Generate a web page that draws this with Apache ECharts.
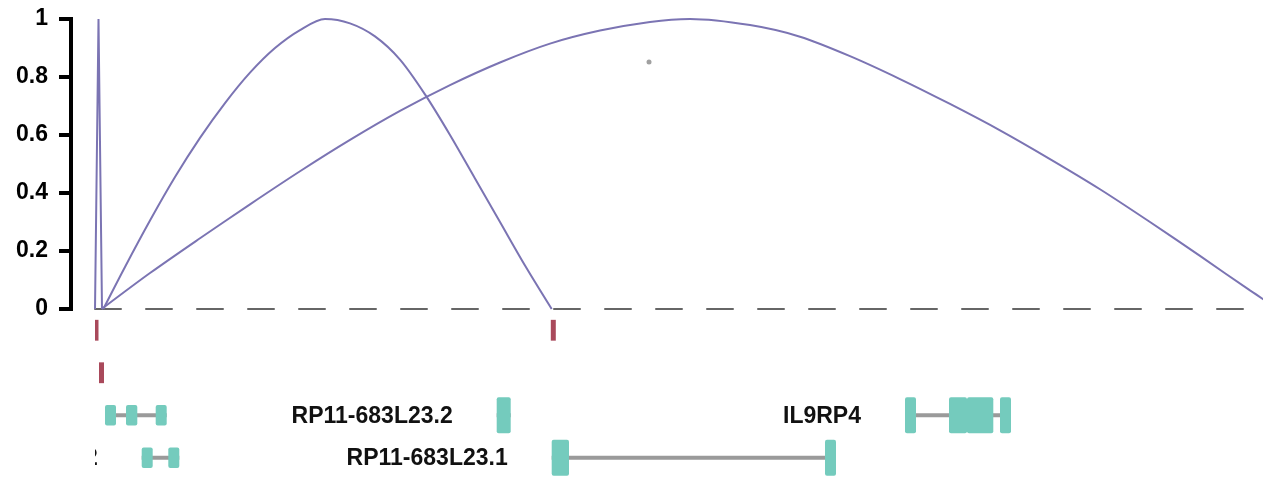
<!DOCTYPE html>
<html><head><meta charset="utf-8">
<script src="https://cdn.jsdelivr.net/npm/echarts@6/dist/echarts.min.js"></script>
<style>html,body{margin:0;padding:0;background:#fff}#chart{width:1263px;height:479px}</style>
</head><body><div id="chart"></div>
<script>
// ---- data (x in track units, y = normalised junction height) ----
const xMin = 0, xMax = 1168;
const yMin = 0, yMax = 1, yStep = 0.2;
const arcA = [[0,0],[3.5,1],[7,0]];
const arcB = [[8.3,0],[30,0.145],[55,0.305],[80,0.455],[105,0.59],[130,0.71],[155,0.815],[180,0.9],[205,0.962],[230,1.0],[255,0.985],[280,0.94],[305,0.86],[330,0.74],[355,0.6],[380,0.45],[405,0.3],[430,0.15],[456.7,0]];
const arcC = [[6.7,0],[55,0.124],[105,0.244],[155,0.361],[205,0.475],[255,0.583],[305,0.683],[355,0.772],[405,0.85],[455,0.915],[505,0.96],[555,0.99],[595,1.0],[655,0.979],[705,0.939],[755,0.872],[805,0.793],[855,0.707],[905,0.616],[955,0.517],[1005,0.413],[1055,0.3],[1105,0.183],[1155,0.064],[1183,0]];
const dotPoint = [[554, 0.852]];
const trackRows = ['sitesA','sitesB','genes1','genes2'];
const siteStarts = [-0.5, 455.8, 4];
const siteEnds   = [3.5, 460.8, 9];
const siteRows   = [0, 0, 1];
const geneNames  = ['', 'RP11-683L23.2', 'IL9RP4', '2', 'RP11-683L23.1'];
const geneRows   = [2, 2, 2, 3, 3];
const geneCoding = [false, true, true, false, true];
const geneExons  = [
  [[10,21],[31,42.3],[60.7,71.7]],
  [[401.7,415.7]],
  [[810,821],[854,872],[872,898.3],[905,916]],
  [[46.7,57.7],[73.3,84.3]],
  [[456.7,474],[730,741]]
];

// ---- styles ----
const ARC = '#7b74b3', TEAL = '#74cbbd', INTRON = '#9a9a9a', SITE = '#a9495b';
const FONT = '"Liberation Sans", Arial, Helvetica, sans-serif';

function renderSite(params, api) {
  const row = api.value(2);
  const a = api.coord([api.value(0), row]);
  const b = api.coord([api.value(1), row]);
  const h = api.size([0, 1])[1] * 0.49;
  return {type:'rect', shape:{x:a[0], y:a[1]-h/2, width:b[0]-a[0], height:h}, style:{fill:SITE}};
}

function renderGene(params, api) {
  const i = params.dataIndex;
  const row = geneRows[i];
  const exons = geneExons[i];
  const band = api.size([0, 1])[1];
  const h = band * (geneCoding[i] ? 0.85 : 0.48);
  const p0 = api.coord([exons[0][0], row]);
  const p1 = api.coord([exons[exons.length-1][1], row]);
  const children = [{type:'line', shape:{x1:p0[0], y1:p0[1], x2:p1[0], y2:p1[1]}, style:{stroke:INTRON, lineWidth:4}}];
  exons.forEach(e => {
    const a = api.coord([e[0], row]), b = api.coord([e[1], row]);
    children.push({type:'rect', shape:{x:a[0], y:a[1]-h/2, width:b[0]-a[0], height:h, r:2}, style:{fill:TEAL}});
  });
  if (geneNames[i]) {
    children.push({type:'text', x:p0[0]-44, y:p0[1]+1, style:{text:geneNames[i], align:'right', verticalAlign:'middle', fontSize:23, fontWeight:'bold', fontFamily:FONT, fill:'#111'}});
  }
  return {type:'group', children};
}

const chart = echarts.init(document.getElementById('chart'));
chart.setOption({
  animation:false,
  backgroundColor:'#fff',
  grid:[
    {left:95, right:0, top:19, height:290},
    {left:95, right:0, top:309, height:175}
  ],
  xAxis:[
    {type:'value', gridIndex:0, min:xMin, max:xMax, axisLine:{show:true, onZero:false, lineStyle:{color:'#666', width:2, type:[26,25]}}, axisTick:{show:false}, axisLabel:{show:false}, splitLine:{show:false}},
    {type:'value', gridIndex:1, min:xMin, max:xMax, show:false}
  ],
  yAxis:[
    {type:'value', gridIndex:0, min:yMin, max:yMax, interval:yStep, offset:24,
     axisLine:{show:true, onZero:false, lineStyle:{color:'#000', width:4, cap:'square'}},
     axisTick:{show:true, length:12, lineStyle:{color:'#000', width:4}},
     axisLabel:{margin:23, color:'#000', fontSize:23, fontWeight:'bold', fontFamily:FONT},
     splitLine:{show:false}},
    {type:'category', gridIndex:1, data:trackRows, inverse:true, show:false}
  ],
  series:[
    {type:'line', xAxisIndex:0, yAxisIndex:0, data:arcA, symbol:'none', lineStyle:{color:ARC, width:2}},
    {type:'line', xAxisIndex:0, yAxisIndex:0, data:arcB, symbol:'none', smooth:0.3, lineStyle:{color:ARC, width:2}},
    {type:'line', xAxisIndex:0, yAxisIndex:0, data:arcC, symbol:'none', smooth:0.3, lineStyle:{color:ARC, width:2}},
    {type:'scatter', xAxisIndex:0, yAxisIndex:0, data:dotPoint, symbolSize:5, itemStyle:{color:'#888'}},
    {type:'custom', xAxisIndex:1, yAxisIndex:1, clip:true, renderItem:renderSite,
     data: siteStarts.map((s,i)=>[s, siteEnds[i], siteRows[i]]), encode:{x:[0,1], y:2}},
    {type:'custom', xAxisIndex:1, yAxisIndex:1, clip:true, renderItem:renderGene,
     data: geneExons.map((ex,i)=>[ex[0][0], ex[ex.length-1][1], geneRows[i]]), encode:{x:[0,1], y:2}}
  ]
});
</script></body></html>
